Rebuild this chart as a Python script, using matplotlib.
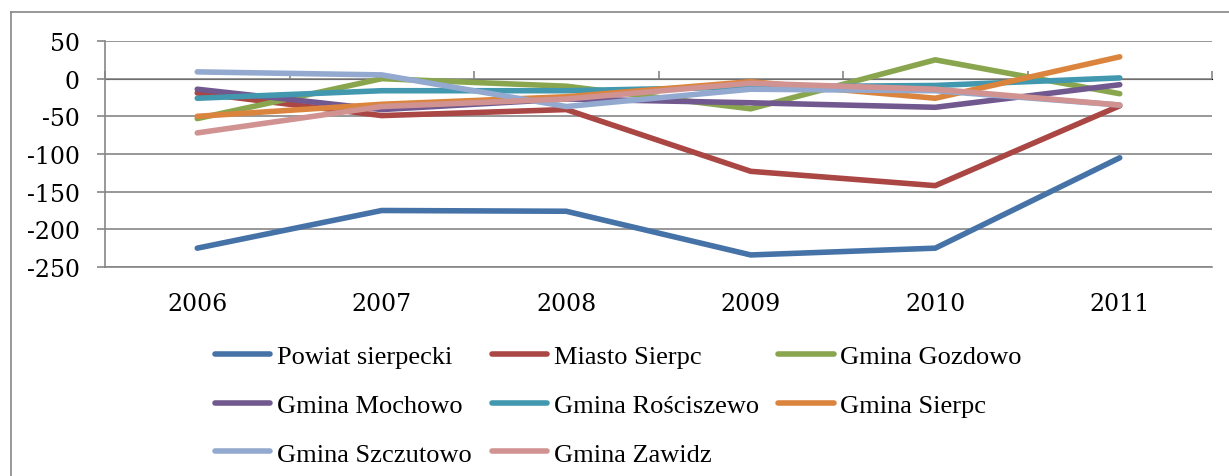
import matplotlib
matplotlib.use("Agg")
import matplotlib.pyplot as plt
from matplotlib.lines import Line2D

plt.rcParams['axes.unicode_minus'] = False

# Data
years = ['2006', '2007', '2008', '2009', '2010', '2011']
names = ['Powiat sierpecki', 'Miasto Sierpc', 'Gmina Gozdowo',
         'Gmina Mochowo', 'Gmina Rościszewo', 'Gmina Sierpc',
         'Gmina Szczutowo', 'Gmina Zawidz']
powiat = [-225, -175, -176, -234, -225, -105]
miasto = [-19, -49, -41, -123, -142, -36]
gozdowo = [-53, 0, -10, -40, 25, -20]
mochowo = [-14, -41, -27, -32, -38, -8]
rosciszewo = [-26, -16, -16, -11, -9, 1]
sierpc = [-50, -34, -24, -4, -26, 29]
szczutowo = [9, 5, -37, -14, -16, -35]
zawidz = [-72, -37, -27, -6, -14, -35]
series = [powiat, miasto, gozdowo, mochowo, rosciszewo, sierpc, szczutowo, zawidz]

colors = ['#4572A7', '#AA4643', '#89A54E', '#71588F',
          '#4198AF', '#DB843D', '#93A9CF', '#D19392']
GREY = '#868686'

fig = plt.figure(figsize=(12.29, 4.77), dpi=100)
ax = fig.add_axes([105 / 1229, 1 - 268 / 477, (1212 - 105) / 1229, (268 - 42) / 477])

x = list(range(len(years)))
lines = []
for vals, name, c in zip(series, names, colors):
    ln, = ax.plot(x, vals, color=c, lw=4, label=name,
                  solid_capstyle='round', solid_joinstyle='round')
    lines.append(ln)

ax.set_xlim(-0.5, len(years) - 0.5)
ax.set_ylim(-250, 50)
ax.set_yticks(range(-250, 51, 50))
ax.yaxis.grid(True, color=GREY, lw=1.2)
ax.set_axisbelow(True)

for s in ['top', 'right']:
    ax.spines[s].set_visible(False)
ax.spines['left'].set_color(GREY)
ax.spines['left'].set_linewidth(1.2)
ax.spines['bottom'].set_color(GREY)
ax.spines['bottom'].set_linewidth(1.2)

ax.set_xticks(x, years)
ax.tick_params(axis='x', length=0, pad=18, labelsize=17)
ax.tick_params(axis='y', length=6, width=1.2, color=GREY, pad=12, labelsize=17)
for lab in ax.get_xticklabels() + ax.get_yticklabels():
    lab.set_family('DejaVu Serif')

# category axis crosses at zero
sec = ax.secondary_xaxis(250 / 300)
sec.set_xticks([i - 0.5 for i in range(len(years) + 1)], [''] * (len(years) + 1))
sec.tick_params(length=6, width=1.2, color=GREY, direction='out')
sec.spines['bottom'].set_color(GREY)
sec.spines['bottom'].set_linewidth(1.2)

# chart frame
fig.add_artist(Line2D([11 / 1229, 1], [1 - 13 / 477] * 2, color=GREY, lw=1.2))
fig.add_artist(Line2D([11 / 1229] * 2, [0, 1 - 13 / 477], color=GREY, lw=1.2))

# legend filled row by row, like Excel
order = [0, 3, 6, 1, 4, 7, 2, 5]
fig.legend([lines[i] for i in order], [names[i] for i in order],
           loc='upper left', bbox_to_anchor=(215 / 1229, 1 - 346 / 477),
           ncol=3, frameon=False, borderpad=0, borderaxespad=0,
           handlelength=2.1, handletextpad=0.25, columnspacing=0.75,
           labelspacing=0.95, prop={'family': 'Liberation Serif', 'size': 19})

fig.savefig('out.png', dpi=100)
